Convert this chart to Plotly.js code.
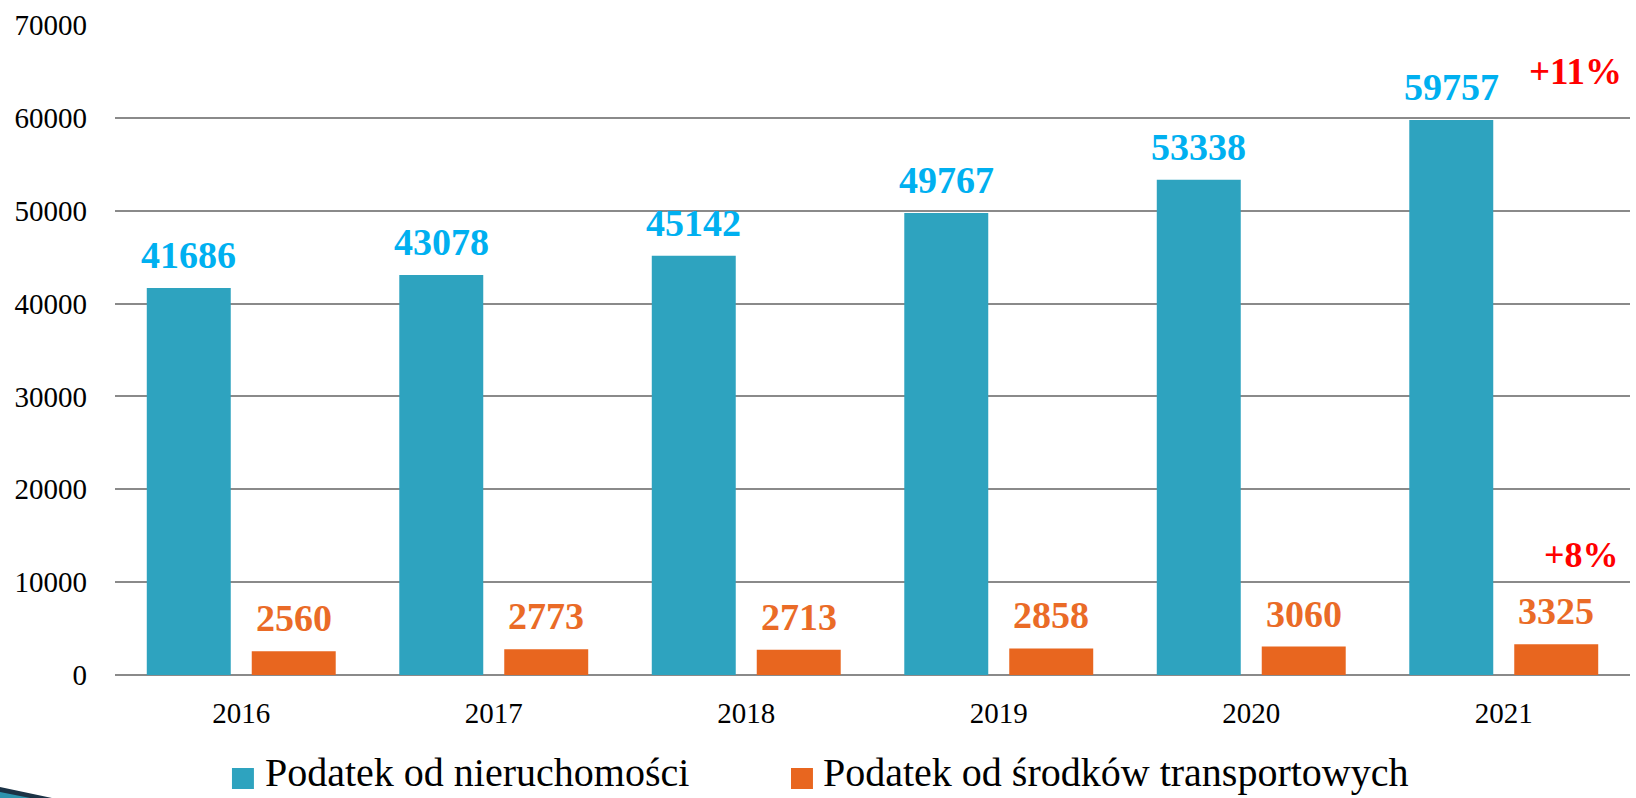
<!DOCTYPE html>
<html>
<head>
<meta charset="utf-8">
<script src="https://cdn.plot.ly/plotly-3.0.1.min.js"></script>
<style>html,body{margin:0;padding:0;background:#fff;}#chart{width:1636px;height:798px;}</style>
</head>
<body>
<div id="chart"></div>
<script>
const categories = ['2016', '2017', '2018', '2019', '2020', '2021'];
const nieruchomosci = [41686, 43078, 45142, 49767, 53338, 59757];
const transport = [2560, 2773, 2713, 2858, 3060, 3325];
const seriesNames = ['Podatek od nieruchomości', 'Podatek od środków transportowych'];
const growthLabels = ['+11%', '+8%'];

const FONT = "'Liberation Serif', 'Times New Roman', serif";
const BLUE = '#2EA3BF', ORANGE = '#E8661F';
const BLUE_TXT = '#00B0F0', ORANGE_TXT = '#EA6B27';
const BARGAP = 0.1686;
const GROUPGAP = 0.2;
const OFF = (1 - BARGAP) / 4;

const traces = [
  {type: 'bar', name: seriesNames[0], x: categories, y: nieruchomosci,
   marker: {color: BLUE}, hoverinfo: 'x+y'},
  {type: 'bar', name: seriesNames[1], x: categories, y: transport,
   marker: {color: ORANGE}, hoverinfo: 'x+y'}
];

const annotations = [];
categories.forEach((c, i) => {
  annotations.push({x: i - OFF, y: nieruchomosci[i], xref: 'x', yref: 'y',
    text: String(nieruchomosci[i]), showarrow: false, yanchor: 'bottom', yshift: 10,
    font: {family: FONT, size: 38, color: BLUE_TXT, weight: 'bold'}});
  annotations.push({x: i + OFF, y: transport[i], xref: 'x', yref: 'y',
    text: String(transport[i]), showarrow: false, yanchor: 'bottom', yshift: 10,
    font: {family: FONT, size: 38, color: ORANGE_TXT, weight: 'bold'}});
});
annotations.push({x: 0.9637, y: 0.929, xref: 'paper', yref: 'paper', text: growthLabels[0],
  showarrow: false, xanchor: 'center', yanchor: 'middle',
  font: {family: FONT, size: 37, color: '#FF0000', weight: 'bold'}});
annotations.push({x: 0.9677, y: 0.1846, xref: 'paper', yref: 'paper', text: growthLabels[1],
  showarrow: false, xanchor: 'center', yanchor: 'middle',
  font: {family: FONT, size: 36, color: '#FF0000', weight: 'bold'}});

// custom legend (larger squares, as in the reference)
const legendItems = [
  {name: seriesNames[0], color: BLUE, sx0: 0.0772, sx1: 0.0917, tx: 0.0977},
  {name: seriesNames[1], color: ORANGE, sx0: 0.4462, sx1: 0.4607, tx: 0.4660}
];
const shapes = [];
legendItems.forEach(it => {
  shapes.push({type: 'rect', xref: 'paper', yref: 'paper', x0: it.sx0, x1: it.sx1,
    y0: -0.1754, y1: -0.1431, fillcolor: it.color, line: {width: 0}});
  annotations.push({x: it.tx, y: -0.1505, xref: 'paper', yref: 'paper', text: it.name,
    showarrow: false, xanchor: 'left', yanchor: 'middle',
    font: {family: FONT, size: 40, color: '#000'}});
});
// decorative corner swoosh
shapes.push({type: 'path', xref: 'paper', yref: 'paper', layer: 'above',
  path: 'M -0.0759 -0.1723 L -0.0416 -0.1892 L -0.0759 -0.1892 Z',
  fillcolor: '#1B3346', line: {width: 0}});
shapes.push({type: 'path', xref: 'paper', yref: 'paper', layer: 'above',
  path: 'M -0.0759 -0.1800 L -0.0560 -0.1892 L -0.0759 -0.1892 Z',
  fillcolor: '#2E94AE', line: {width: 0}});

const layout = {
  width: 1636, height: 798, autosize: false,
  margin: {l: 115, r: 6, t: 25, b: 123, pad: 0},
  paper_bgcolor: '#fff', plot_bgcolor: '#fff',
  font: {family: FONT, color: '#000'},
  barmode: 'group', bargap: BARGAP, bargroupgap: GROUPGAP,
  showlegend: false,
  xaxis: {type: 'category', tickfont: {family: FONT, size: 29, color: '#000'},
    showgrid: false, showline: false, ticks: '', ticklabelstandoff: 18, fixedrange: true},
  yaxis: {range: [0, 70000], dtick: 10000, tickformat: 'd',
    tickfont: {family: FONT, size: 29, color: '#000'},
    showgrid: true, gridcolor: '#8A8A8A', gridwidth: 2,
    zeroline: true, zerolinecolor: '#8A8A8A', zerolinewidth: 2,
    showline: false, ticks: '', ticklabelstandoff: 27, fixedrange: true},
  annotations: annotations,
  shapes: shapes
};

Plotly.newPlot('chart', traces, layout, {displayModeBar: false, staticPlot: true});
</script>
</body>
</html>
